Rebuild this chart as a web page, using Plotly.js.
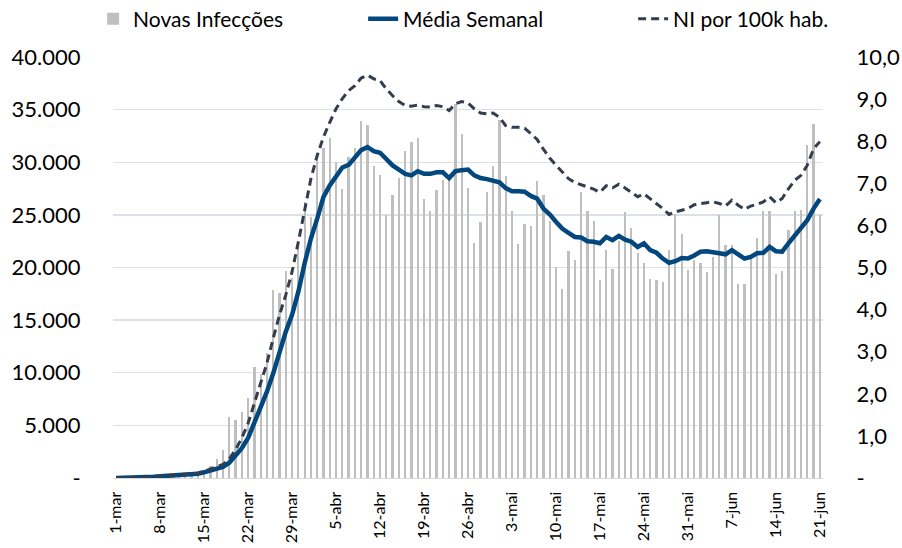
<!DOCTYPE html>
<html>
<head>
<meta charset="utf-8">
<script src="https://cdn.plot.ly/plotly-3.0.1.min.js"></script>
<style>
html,body{margin:0;padding:0;background:#fff;}
#chart{width:902px;height:548px;}
</style>
</head>
<body>
<div id="chart"></div>
<script>
// ---- data ----
const startDay = {year: 2020, month: 2, day: 1}; // 1-mar
const monthNames = ['jan','fev','mar','abr','mai','jun','jul','ago','set','out','nov','dez'];

const novasInfeccoes = [
  5, 10, 15, 20, 35, 50, 70, 90, 120, 140, 200, 290, 350, 450, 800, 1150, 1800, 2700,
  5800, 5500, 6300, 7600, 10500, 9850, 11900, 17900, 17600, 19700, 19000, 22500,
  26200, 24800, 30200, 31400, 32300, 30000, 27500, 30500, 31400, 33900, 33500, 29600,
  28800, 25000, 26850, 28500, 31100, 31900, 32350, 26550, 25400, 27350, 28300, 28600,
  35500, 32700, 27550, 22300, 24300, 27150, 29600, 34000, 28650, 25400, 22200, 24100,
  23950, 28200, 26850, 24400, 20050, 17950, 21550, 20700, 27150, 25400, 24400, 18800,
  21700, 19900, 22500, 25250, 23750, 21400, 20400, 18950, 18800, 18650, 21650, 25050,
  23200, 19750, 20750, 20450, 19600, 21000, 25000, 22150, 22150, 18450, 18450, 20900,
  22800, 25350, 25350, 19350, 19650, 23550, 25350, 25500, 31600, 33600, 24950
];

const mediaSemanal = [
  10, 15, 20, 30, 50, 80, 120, 160, 190, 220, 250, 290, 340, 410, 540, 700, 880, 1050,
  1450, 2150, 2840, 3800, 5200, 6650, 8200, 9950, 12000, 13900, 15500, 17700,
  20400, 22750, 24650, 26700, 27800, 28600, 29500, 29750, 30500, 31150, 31450, 31050,
  30900, 30350, 29700, 29300, 28900, 28750, 29150, 28900, 28900, 29050, 29050, 28500,
  29150, 29250, 29300, 28750, 28500, 28400, 28300, 28100, 27550, 27250, 27250, 27200,
  26800, 26550, 25600, 25050, 24350, 23700, 23300, 22900, 22850, 22500, 22450, 22300,
  22900, 22600, 23000, 22650, 22450, 21950, 22300, 21650, 21400, 20850, 20450, 20600,
  20900, 20850, 21150, 21500, 21550, 21400, 21350, 21250, 21650, 21250, 20850, 21000,
  21350, 21400, 21950, 21550, 21500, 22300, 23050, 23700, 24500, 25600, 26500
];

const niPor100k = [
  0.003, 0.005, 0.006, 0.01, 0.015, 0.024, 0.036, 0.05, 0.06, 0.07, 0.08, 0.09, 0.10, 0.12, 0.16, 0.21, 0.27, 0.32,
  0.45, 0.67, 0.95, 1.30, 1.78, 2.25, 2.73, 3.32, 3.87, 4.35, 4.90, 5.61,
  6.40, 7.11, 7.66, 8.10, 8.45, 8.77, 9.01, 9.20, 9.32, 9.50, 9.57, 9.48,
  9.44, 9.24, 9.08, 8.94, 8.85, 8.83, 8.86, 8.82, 8.81, 8.85, 8.82, 8.73,
  8.89, 8.94, 8.91, 8.77, 8.67, 8.65, 8.67, 8.57, 8.37, 8.33, 8.33, 8.31,
  8.18, 8.04, 7.81, 7.60, 7.43, 7.27, 7.11, 7.02, 6.97, 6.91, 6.86, 6.79,
  6.94, 6.89, 6.98, 6.89, 6.79, 6.68, 6.75, 6.64, 6.52, 6.40, 6.26, 6.32,
  6.36, 6.40, 6.49, 6.52, 6.54, 6.56, 6.52, 6.46, 6.60, 6.48, 6.38, 6.46,
  6.50, 6.56, 6.68, 6.54, 6.64, 6.87, 7.07, 7.19, 7.43, 7.82, 7.99
];

const leftTickVals = [0, 5000, 10000, 15000, 20000, 25000, 30000, 35000, 40000];
const leftTickText = ['-', '5.000', '10.000', '15.000', '20.000', '25.000', '30.000', '35.000', '40.000'];
const rightTickVals = [0, 1, 2, 3, 4, 5, 6, 7, 8, 9, 10];
const rightTickText = ['-', '1,0', '2,0', '3,0', '4,0', '5,0', '6,0', '7,0', '8,0', '9,0', '10,0'];
const xTickStep = 7;

// ---- build category labels ----
const dias = novasInfeccoes.map((_, i) => {
  const d = new Date(startDay.year, startDay.month, startDay.day + i);
  return d.getDate() + '-' + monthNames[d.getMonth()];
});
const xTickVals = dias.filter((_, i) => i % xTickStep === 0);

const FONT = 'Lato, "Liberation Sans", Arial, sans-serif';

const traces = [
  {
    type: 'bar', name: 'Novas Infecções', x: dias, y: novasInfeccoes,
    marker: {color: '#BFBFBF'}, width: 0.36, yaxis: 'y'
  },
  {
    type: 'scatter', mode: 'lines', name: 'Média Semanal', x: dias, y: mediaSemanal,
    line: {color: '#03477F', width: 4.5}, yaxis: 'y'
  },
  {
    type: 'scatter', mode: 'lines', name: 'NI por 100k hab.', x: dias, y: niPor100k,
    line: {color: '#323E4E', width: 3, dash: '8px,5px'}, yaxis: 'y2'
  }
];

const layout = {
  width: 902, height: 548,
  margin: {l: 113, r: 79, t: 57, b: 70, pad: 0, autoexpand: false},
  paper_bgcolor: '#ffffff', plot_bgcolor: '#ffffff',
  font: {family: FONT, size: 22, color: '#000000'},
  bargap: 0,
  showlegend: true,
  legend: {
    orientation: 'h', x: -0.028, xanchor: 'left', y: 1.09, yanchor: 'middle',
    entrywidth: 225, entrywidthmode: 'pixels',
    font: {family: FONT, size: 21, color: '#000000'},
    bgcolor: 'rgba(0,0,0,0)', traceorder: 'normal'
  },
  xaxis: {
    type: 'category', range: [-0.5, dias.length - 0.5],
    tickmode: 'array', tickvals: xTickVals, ticktext: xTickVals,
    tickangle: -90, tickfont: {family: FONT, size: 16, color: '#000000'},
    ticks: 'outside', ticklen: 6, tickcolor: 'rgba(0,0,0,0)',
    showgrid: false, showline: true, linecolor: '#D9D9D9', linewidth: 1.3,
    zeroline: false, fixedrange: true
  },
  yaxis: {
    range: [0, 40000], tickmode: 'array', tickvals: leftTickVals, ticktext: leftTickText,
    tickfont: {family: FONT, size: 22, color: '#000000'},
    ticks: 'outside', ticklen: 27, tickcolor: 'rgba(0,0,0,0)',
    showgrid: true, gridcolor: '#DCE1E7', gridwidth: 1.3,
    zeroline: false, showline: false, fixedrange: true
  },
  yaxis2: {
    range: [0, 10], overlaying: 'y', side: 'right',
    tickmode: 'array', tickvals: rightTickVals, ticktext: rightTickText,
    tickfont: {family: FONT, size: 22, color: '#000000'},
    ticks: 'outside', ticklen: 28, tickcolor: 'rgba(0,0,0,0)',
    showgrid: false, zeroline: false, showline: false, fixedrange: true
  }
};

Plotly.newPlot('chart', traces, layout, {displayModeBar: false, staticPlot: true});
</script>
</body>
</html>
